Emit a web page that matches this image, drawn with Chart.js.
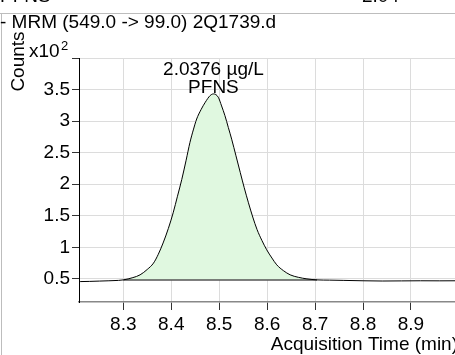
<!DOCTYPE html>
<html>
<head>
<meta charset="utf-8">
<script src="https://cdn.jsdelivr.net/npm/chart.js@4.4.0/dist/chart.umd.min.js"></script>
<style>
  html, body { margin: 0; padding: 0; background: #fff; overflow: hidden; }
  #wrap { width: 455px; height: 355px; position: relative; }
</style>
</head>
<body>
<div id="wrap"><canvas id="chart" width="455" height="355"></canvas></div>
<script>
// Chromatogram values (time in min, counts x10^2)
const times = [8.21, 8.23, 8.25, 8.27, 8.29, 8.30, 8.32, 8.335, 8.35, 8.363, 8.373, 8.383, 8.394, 8.404, 8.413,
  8.422, 8.431, 8.439, 8.446, 8.453, 8.462, 8.471, 8.481, 8.488, 8.498, 8.505, 8.512, 8.519, 8.526, 8.535,
  8.544, 8.552, 8.561, 8.570, 8.579, 8.589, 8.599, 8.61, 8.62, 8.634, 8.648, 8.665, 8.683, 8.704, 8.73,
  8.76, 8.80, 8.84, 8.88, 8.92, 8.96, 9.0];
const counts = [0.457, 0.46, 0.465, 0.47, 0.476, 0.484, 0.52, 0.564, 0.65, 0.75, 0.89, 1.069, 1.30, 1.547, 1.81,
  2.077, 2.38, 2.662, 2.86, 3.033, 3.18, 3.299, 3.404, 3.431, 3.379, 3.24, 3.086, 2.90, 2.714, 2.45,
  2.184, 1.95, 1.706, 1.48, 1.281, 1.11, 0.962, 0.83, 0.723, 0.63, 0.564, 0.525, 0.5, 0.484, 0.48,
  0.476, 0.47, 0.466, 0.468, 0.47, 0.469, 0.47];

// integrated peak
const peakStart = 8.30;
const peakEnd = 8.704;
const peakBase = 0.484;

const xTicks = [8.3, 8.4, 8.5, 8.6, 8.7, 8.8, 8.9];
const yTicks = [0.5, 1, 1.5, 2, 2.5, 3, 3.5, 4];

const titleText = '- MRM (549.0 -> 99.0) 2Q1739.d';
const peakLabel = ['2.0376 \u00b5g/L', 'PFNS'];

const FONT = '"Liberation Sans", Arial, sans-serif';

const curve = times.map((t, i) => ({ x: t, y: counts[i] }));
const peakArea = curve.filter(p => p.x >= peakStart && p.x <= peakEnd);
const baseLine = [{ x: peakStart, y: peakBase }, { x: peakEnd, y: peakBase }];

// texts and frame around the plot
const decorPlugin = {
  id: 'decor',
  beforeDraw(chart) {
    const c = chart.ctx;
    c.save();
    c.strokeStyle = '#bdbdbd';
    c.lineWidth = 1;
    c.beginPath();
    c.moveTo(0, 13.5);
    c.lineTo(455, 13.5);
    c.moveTo(1.5, 13.5);
    c.lineTo(1.5, 355);
    c.stroke();
    c.restore();
  },
  afterDraw(chart) {
    const c = chart.ctx;
    const xs = chart.scales.x;
    c.save();
    c.fillStyle = '#000';
    c.font = '19px ' + FONT;
    c.textBaseline = 'bottom';
    c.textAlign = 'left';
    c.fillText('PFNS', 0, 6);
    c.fillText('2.04', 362, 6);
    c.textBaseline = 'middle';
    c.fillText(titleText, 0, 23);

    // peak annotation
    c.textAlign = 'center';
    const px = xs.getPixelForValue(8.488);
    c.fillText(peakLabel[0], px, 70);
    c.fillText(peakLabel[1], px, 88);

    // axis title y
    c.save();
    c.translate(24, 61.5);
    c.rotate(-Math.PI / 2);
    c.textAlign = 'center';
    c.textBaseline = 'alphabetic';
    c.font = '19px ' + FONT;
    c.fillText('Counts', 0, 0);
    c.restore();

    // exponent
    c.textAlign = 'left';
    c.textBaseline = 'alphabetic';
    c.font = '19px ' + FONT;
    c.fillText('x10', 29, 57);
    c.font = '13px ' + FONT;
    c.fillText('2', 61, 50);

    // axis title x
    c.textAlign = 'right';
    c.textBaseline = 'middle';
    c.font = '19px ' + FONT;
    c.fillText('Acquisition Time (min)', 458, 345);
    c.restore();
  }
};

new Chart(document.getElementById('chart'), {
  type: 'line',
  data: {
    datasets: [
      {
        data: curve,
        borderColor: '#000',
        borderWidth: 1,
        pointRadius: 0,
        cubicInterpolationMode: 'monotone',
        fill: false
      },
      {
        data: baseLine,
        borderColor: '#555',
        borderWidth: 1.5,
        pointRadius: 0,
        fill: false
      },
      {
        data: peakArea,
        borderWidth: 0,
        borderColor: 'rgba(0,0,0,0)',
        backgroundColor: '#e0f8e0',
        pointRadius: 0,
        cubicInterpolationMode: 'monotone',
        fill: { value: peakBase }
      }
    ]
  },
  options: {
    responsive: false,
    animation: false,
    layout: { padding: { left: 0, right: 0, top: 58, bottom: 0 } },
    plugins: {
      legend: { display: false },
      tooltip: { enabled: false }
    },
    scales: {
      x: {
        type: 'linear',
        min: 8.2076,
        max: 8.9918,
        afterBuildTicks: s => { s.ticks = xTicks.map(v => ({ value: v })); },
        afterFit: s => { s.height = 53; },
        grid: { color: '#dcdcdc', tickColor: '#333', tickLength: 8, drawTicks: true },
        border: { color: '#888', width: 1.5 },
        ticks: {
          color: '#000',
          padding: 3,
          maxRotation: 0,
          font: { family: FONT, size: 19 },
          callback: v => v.toFixed(1)
        }
      },
      y: {
        type: 'linear',
        min: 0.1336,
        max: 4.0,
        afterBuildTicks: s => { s.ticks = yTicks.map(v => ({ value: v })); },
        afterFit: s => { s.width = 79; },
        grid: { color: '#dcdcdc', tickColor: '#333', tickLength: 7, drawTicks: true },
        border: { color: '#000', width: 1 },
        ticks: {
          color: '#000',
          padding: 2,
          font: { family: FONT, size: 19 },
          callback: v => (v === 4 ? '' : String(v))
        }
      }
    }
  },
  plugins: [decorPlugin]
});
</script>
</body>
</html>
